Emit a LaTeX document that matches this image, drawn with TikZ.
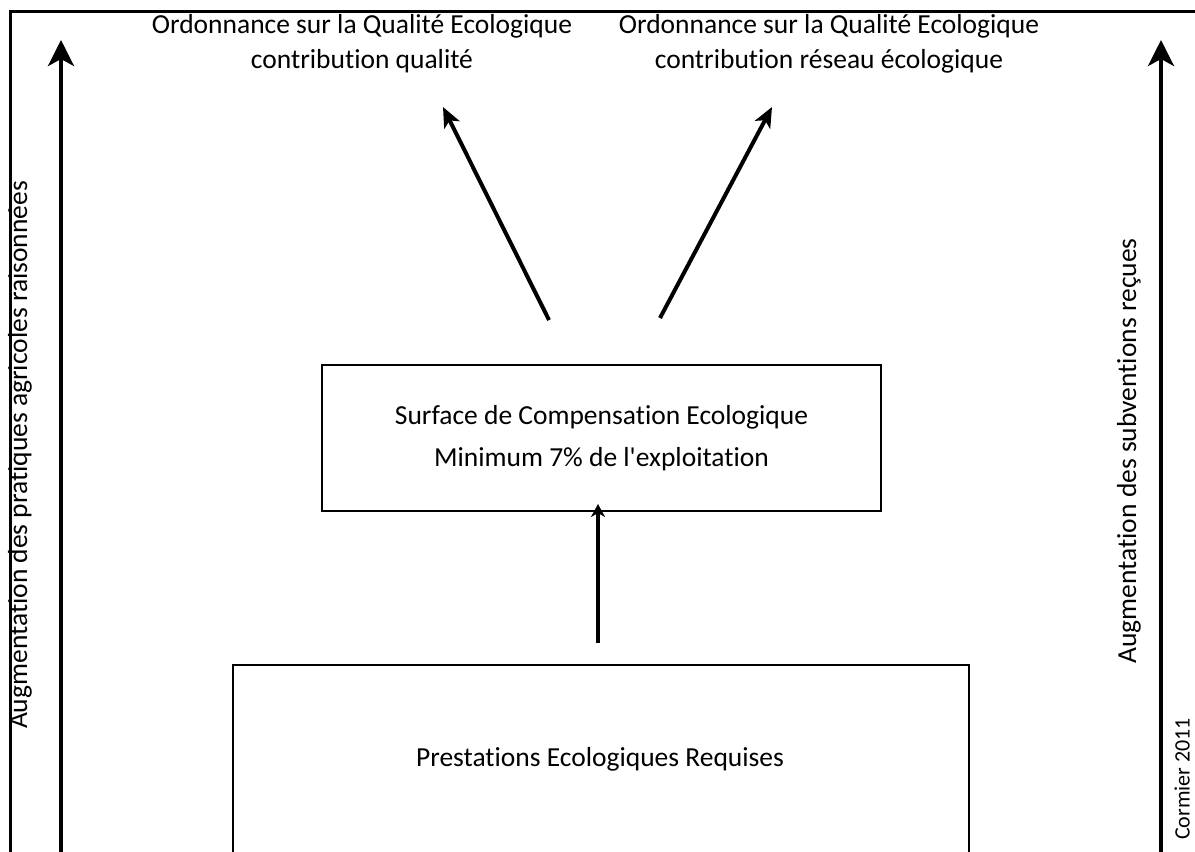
\documentclass[tikz,border=0pt]{standalone}
\usepackage{fontspec}
\setmainfont{Carlito}[Ligatures={NoCommon}]
\usetikzlibrary{arrows.meta}

\begin{document}
\begin{tikzpicture}[x=1pt,y=-1pt,font=\fontsize{27.5}{33}\selectfont,
  bx/.style={draw,line width=1.6pt,inner sep=0pt},
  lbl/.style={align=center,inner sep=0pt},
  big/.style={line width=4pt,-{Stealth[length=26pt,width=26pt,inset=7pt]}},
  thk/.style={line width=4pt,-{Stealth[length=20pt,width=17pt,inset=5pt]}},
  sml/.style={line width=4pt,-{Stealth[length=13pt,width=14pt,inset=4pt]}}]
  \useasboundingbox (0,0) rectangle (1195,852);
  \clip (0,0) rectangle (1195,852);
  \fill[white] (0,0) rectangle (1195,852);
  \draw[line width=3pt] (10,870) |- (1210,11);
  % titles
  \node[lbl,font=\fontsize{27.5}{35}\selectfont] (oql) at (362,44) {Ordonnance sur la Qualité Ecologique\\contribution qualité};
  \node[lbl,font=\fontsize{27.5}{35}\selectfont] (oqr) at (829,44) {Ordonnance sur la Qualité Ecologique\\contribution réseau écologique};
  % boxes
  \node[bx,minimum width=559pt,minimum height=146pt,align=center] (sce) at (601.5,438)
    {Surface de Compensation Ecologique\\[9pt]Minimum 7\% de l\textquotesingle exploitation};
  \node[bx,minimum width=736pt,minimum height=240pt] (per) at (601,785) {};
  \node[lbl] (pertxt) at (600,759) {Prestations Ecologiques Requises};
  % side arrows
  \coordinate (lb) at (61,860);  \coordinate (lt) at (61,40);
  \coordinate (rb) at (1161,860); \coordinate (rt) at (1161,40);
  \draw[big] (lb) -- (lt);
  \draw[big] (rb) -- (rt);
  \node[lbl,rotate=90] (agl) at (20,455) {Augmentation des pratiques agricoles raisonnées};
  \node[lbl,rotate=90] (agr) at (1129,451) {Augmentation des subventions reçues};
  % arrows between boxes
  \coordinate (dl0) at (549,320); \coordinate (dl1) at (443,107);
  \coordinate (dr0) at (660,318); \coordinate (dr1) at (772,107);
  \draw[thk] (dl0) -- (dl1);
  \draw[thk] (dr0) -- (dr1);
  \coordinate (up0) at (598,643); \coordinate (up1) at (598,504);
  \draw[sml] (up0) -- (up1);
  \node[lbl,rotate=90,font=\fontsize{22}{26}\selectfont,anchor=west] (cred) at (1182,840) {Cormier 2011};
\end{tikzpicture}
\end{document}
